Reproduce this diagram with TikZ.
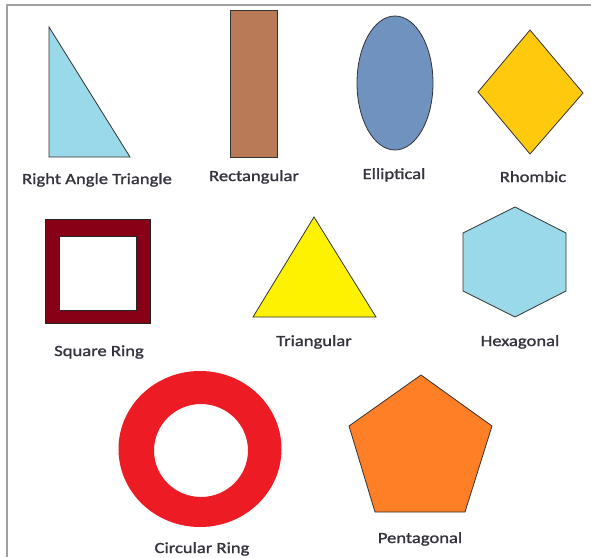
\documentclass[tikz,border=0pt]{standalone}
\usepackage{fontspec}
\setmainfont[FakeStretch=1.2,FakeBold=1.3]{Carlito}
\definecolor{lblue}{HTML}{99D9EA}
\definecolor{brownc}{HTML}{B97A57}
\definecolor{bluegray}{HTML}{7092BE}
\definecolor{goldc}{HTML}{FFC90E}
\definecolor{darkred}{HTML}{880015}
\definecolor{yellowc}{HTML}{FFF200}
\definecolor{redc}{HTML}{ED1C24}
\definecolor{orangec}{HTML}{FF7F27}
\definecolor{textc}{HTML}{34343F}
\definecolor{framec}{HTML}{A0A0A0}
\tikzset{
  shapeout/.style={draw=black!80, line width=0.8pt, line join=miter},
  lbl/.style={anchor=base, inner sep=0pt, text=textc, font=\fontsize{15.5}{18}\selectfont}
}
\begin{document}
\begin{tikzpicture}[x=1pt,y=-1pt]
\useasboundingbox (0,0) rectangle (591,557);
\fill[white] (0,0) rectangle (591,557);
% frame
\draw[framec, line width=1.5pt] (591,5) -- (7,5) -- (7,557);
% right angle triangle
\draw[shapeout, fill=lblue] (49,27) -- (49,157) -- (130,157) -- cycle;
\node[lbl] (t1) at (97,184) {Right Angle Triangle};
% rectangle
\draw[shapeout, fill=brownc] (230,10) rectangle (277,157);
\node[lbl] (t2) at (254,181) {Rectangular};
% ellipse
\draw[shapeout, fill=bluegray] (395,83) ellipse [x radius=38, y radius=67];
\node[lbl] (t3) at (394,179) {Elliptical};
% rhombus
\draw[shapeout, fill=goldc] (530,30) -- (583,93) -- (530,154) -- (478,92) -- cycle;
\node[lbl] (t4) at (533,182) {Rhombic};
% square ring
\draw[draw=black!85, line width=0.8pt, fill=darkred, even odd rule]
  (45,219) rectangle (150,323) (59,236) rectangle (136,310);
\node[lbl] (t5) at (99,356) {Square Ring};
% triangle
\draw[shapeout, fill=yellowc] (314,217) -- (376,317) -- (253,317) -- cycle;
\node[lbl] (t6) at (314,346) {Triangular};
% hexagon
\draw[shapeout, fill=lblue] (515,207) -- (566,233) -- (566,291) -- (515,317) -- (463,291) -- (463,233) -- cycle;
\node[lbl] (t7) at (520,346) {Hexagonal};
% circular ring
\fill[redc, even odd rule] (200,449) ellipse [x radius=81.5, y radius=78] (201,450.5) ellipse [x radius=47, y radius=46.5];
\node[lbl] (t8) at (202,553) {Circular Ring};
% pentagon
\draw[shapeout, fill=orangec] (421,375) -- (492,426) -- (465,512) -- (375,512) -- (349,426) -- cycle;
\node[lbl] (t9) at (420,543) {Pentagonal};
\end{tikzpicture}
\end{document}
